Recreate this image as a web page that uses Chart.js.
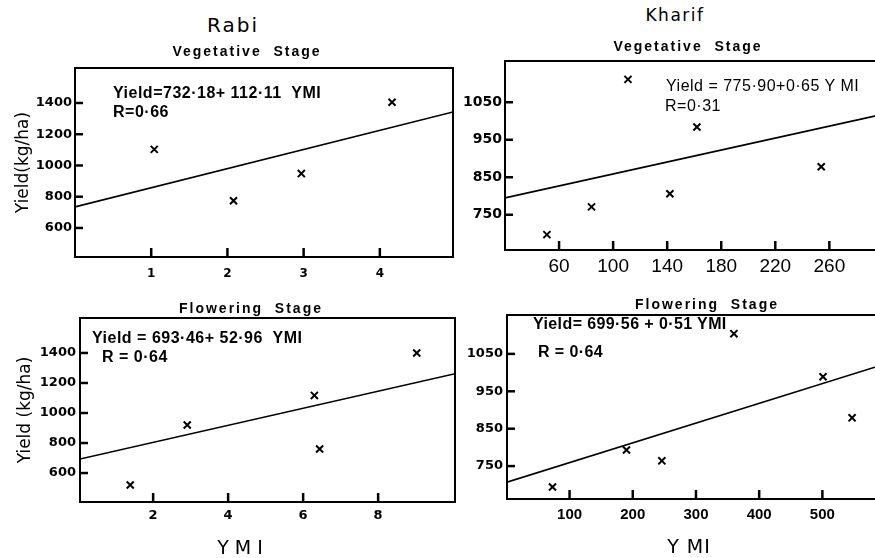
<!DOCTYPE html>
<html>
<head>
<meta charset="utf-8">
<script src="https://cdn.jsdelivr.net/npm/chart.js@4.4.1/dist/chart.umd.min.js"></script>
<style>
  html, body { margin:0; padding:0; background:#fff; }
  body { width:875px; height:558px; overflow:hidden; position:relative; }
  canvas { position:absolute; }
  .t { position:absolute; color:#000; white-space:pre; line-height:1; }
  .c { text-align:center; width:400px; }
</style>
</head>
<body>
<canvas id="c1" width="460" height="240" style="left:0px;top:60px"></canvas>
<canvas id="c2" width="455" height="240" style="left:430px;top:50px"></canvas>
<canvas id="c3" width="465" height="242" style="left:0px;top:300px"></canvas>
<canvas id="c4" width="455" height="245" style="left:430px;top:295px"></canvas>

<div class="t c" style="left:33px;top:13px;font:20px 'DejaVu Sans';letter-spacing:2px">Rabi</div>
<div class="t c" style="left:475px;top:5px;font:17px 'DejaVu Sans';letter-spacing:1.5px">Kharif</div>
<div class="t c" style="left:47px;top:43px;font:bold 14px 'Liberation Sans';letter-spacing:2px">Vegetative  Stage</div>
<div class="t c" style="left:488px;top:38px;font:bold 14px 'Liberation Sans';letter-spacing:2px">Vegetative  Stage</div>
<div class="t c" style="left:51px;top:300px;font:bold 14px 'Liberation Sans';letter-spacing:2px">Flowering  Stage</div>
<div class="t c" style="left:507px;top:296px;font:bold 14px 'Liberation Sans';letter-spacing:2px">Flowering  Stage</div>

<div class="t" style="left:113px;top:84px;font:bold 16px 'Liberation Sans';letter-spacing:0.5px">Yield=732·18+ 112·11  YMI</div>
<div class="t" style="left:113px;top:103px;font:bold 16px 'Liberation Sans';letter-spacing:0.5px">R=0·66</div>
<div class="t" style="left:666px;top:77px;font:16px 'Liberation Sans';letter-spacing:0.5px">Yield = 775·90+0·65 Y MI</div>
<div class="t" style="left:665px;top:97px;font:16px 'Liberation Sans';letter-spacing:0.5px">R=0·31</div>
<div class="t" style="left:92px;top:329px;font:bold 16px 'Liberation Sans';letter-spacing:0.5px">Yield = 693·46+ 52·96  YMI</div>
<div class="t" style="left:102px;top:348px;font:bold 16px 'Liberation Sans';letter-spacing:0.5px">R = 0·64</div>
<div class="t" style="left:533px;top:315px;font:bold 16px 'Liberation Sans';letter-spacing:0.4px">Yield= 699·56 + 0·51 YMI</div>
<div class="t" style="left:538px;top:343px;font:bold 16px 'Liberation Sans';letter-spacing:0.4px">R = 0·64</div>

<div class="t c" style="left:40px;top:536px;font:19px 'DejaVu Sans'">Y M I</div>
<div class="t c" style="left:489px;top:535px;font:19px 'DejaVu Sans';letter-spacing:1px">Y MI</div>

<script>
// ---- Rabi, vegetative stage ----
const rabiVegYMI = [1.04, 2.08, 2.97, 4.16];
const rabiVegYield = [1103, 774, 948, 1405];
const rabiVegFitYMI = [0, 4.96];
const rabiVegFitYield = [735, 1342];
const rabiVegXTicks = [1, 2, 3, 4];
const rabiVegYTicks = [600, 800, 1000, 1200, 1400];

// ---- Kharif, vegetative stage ----
const kharifVegYMI = [51, 84, 111, 142, 162, 254];
const kharifVegYield = [697, 771, 1111, 806, 984, 878];
const kharifVegFitYMI = [20, 296];
const kharifVegFitYield = [795, 1015];
const kharifVegXTicks = [60, 100, 140, 180, 220, 260];
const kharifVegYTicks = [750, 850, 950, 1050];

// ---- Rabi, flowering stage ----
const rabiFlowYMI = [1.39, 2.91, 6.3, 6.44, 9.03];
const rabiFlowYield = [520, 920, 1117, 760, 1400];
const rabiFlowFitYMI = [0.05, 10.05];
const rabiFlowFitYield = [693, 1262];
const rabiFlowXTicks = [2, 4, 6, 8];
const rabiFlowYTicks = [600, 800, 1000, 1200, 1400];

// ---- Kharif, flowering stage ----
const kharifFlowYMI = [73, 190, 246, 360, 501, 547];
const kharifFlowYield = [694, 793, 764, 1104, 989, 879];
const kharifFlowFitYMI = [1, 588];
const kharifFlowFitYield = [707, 1017];
const kharifFlowXTicks = [100, 200, 300, 400, 500];
const kharifFlowYTicks = [750, 850, 950, 1050];

// box frame + inward tick marks, placed through the chart's own scales
function makeFrame(xTicks, yTicks) {
  return {
    id: 'frame',
    afterDraw(c) {
      const a = c.chartArea, ctx = c.ctx;
      const xs = c.scales.x, ys = c.scales.y;
      ctx.save();
      ctx.strokeStyle = '#000';
      ctx.lineWidth = 2;
      ctx.strokeRect(a.left, a.top, a.right - a.left, a.bottom - a.top);
      ctx.lineWidth = 2.5;
      for (const v of xTicks) {
        const p = xs.getPixelForValue(v);
        ctx.beginPath();
        ctx.moveTo(p, a.bottom);
        ctx.lineTo(p, a.bottom - 9);
        ctx.stroke();
      }
      for (const v of yTicks) {
        const p = ys.getPixelForValue(v);
        ctx.beginPath();
        ctx.moveTo(a.left, p);
        ctx.lineTo(a.left + 8, p);
        ctx.stroke();
      }
      ctx.restore();
    }
  };
}

function panel(id, xs, ys, fx, fy, xTicks, yTicks, xr, yr, st) {
  const pts = xs.map((x, i) => ({ x: x, y: ys[i] }));
  const fit = fx.map((x, i) => ({ x: x, y: fy[i] }));
  const yScale = {
    type: 'linear', min: yr[0], max: yr[1],
    afterBuildTicks: s => { s.ticks = yTicks.map(v => ({ value: v })); },
    afterFit: s => { s.width = st.W; s.paddingTop = 0; s.paddingBottom = 0; },
    grid: { display: false, drawTicks: false },
    border: { display: true, width: 2, color: '#000' },
    ticks: { color: '#000', padding: st.yp, font: st.yf, autoSkip: false, callback: v => String(v) }
  };
  if (st.ytitle) {
    yScale.title = { display: true, text: st.ytitle, color: '#000',
      font: { family: 'DejaVu Sans', size: 17 }, padding: { top: st.ytp, bottom: 0 } };
  }
  return new Chart(document.getElementById(id), {
    type: 'scatter',
    data: {
      datasets: [
        { data: pts, pointStyle: 'crossRot', pointRadius: 5, pointBorderWidth: 2,
          borderColor: '#000', backgroundColor: '#000' },
        { data: fit, showLine: true, pointRadius: 0, borderColor: '#000', borderWidth: 1.6 }
      ]
    },
    options: {
      responsive: false, animation: false, events: [],
      layout: { padding: { top: st.pt, right: st.pr, left: 0, bottom: 0 } },
      plugins: { legend: { display: false }, tooltip: { enabled: false } },
      scales: {
        x: {
          type: 'linear', min: xr[0], max: xr[1],
          afterBuildTicks: s => { s.ticks = xTicks.map(v => ({ value: v })); },
          afterFit: s => { s.height = st.H; s.paddingLeft = 0; s.paddingRight = 0; },
          grid: { display: false, drawTicks: false },
          border: { display: true, width: 2, color: '#000' },
          ticks: { color: '#000', padding: st.xp, font: st.xf, maxRotation: 0, autoSkip: false, callback: v => String(v) }
        },
        y: yScale
      }
    },
    plugins: [makeFrame(xTicks, yTicks)]
  });
}

panel('c1', rabiVegYMI, rabiVegYield, rabiVegFitYMI, rabiVegFitYield, rabiVegXTicks, rabiVegYTicks,
  [0, 4.96], [414, 1624],
  { W: 75, H: 43, pt: 8, pr: 7, xp: 10, yp: 3,
    xf: { family: 'DejaVu Sans', size: 12, weight: 'bold' },
    yf: { family: 'DejaVu Sans', size: 13, weight: 'bold' },
    ytitle: 'Yield(kg/ha)', ytp: 13 });

panel('c2', kharifVegYMI, kharifVegYield, kharifVegFitYMI, kharifVegFitYield, kharifVegXTicks, kharifVegYTicks,
  [20, 296], [656, 1160],
  { W: 75, H: 40, pt: 11, pr: 5, xp: 5, yp: 3,
    xf: { family: 'Liberation Sans', size: 19 },
    yf: { family: 'DejaVu Sans', size: 14, weight: 'bold' } });

panel('c3', rabiFlowYMI, rabiFlowYield, rabiFlowFitYMI, rabiFlowFitYield, rabiFlowXTicks, rabiFlowYTicks,
  [0.05, 10.05], [407, 1633],
  { W: 80, H: 40, pt: 18, pr: 10, xp: 6, yp: 4,
    xf: { family: 'DejaVu Sans', size: 13, weight: 'bold' },
    yf: { family: 'DejaVu Sans', size: 13, weight: 'bold' },
    ytitle: 'Yield (kg/ha)', ytp: 15 });

panel('c4', kharifFlowYMI, kharifFlowYield, kharifFlowFitYMI, kharifFlowFitYield, kharifFlowXTicks, kharifFlowYTicks,
  [1, 588], [662, 1154],
  { W: 77, H: 41, pt: 20, pr: 5, xp: 7, yp: 4,
    xf: { family: 'Liberation Sans', size: 15, weight: 'bold' },
    yf: { family: 'DejaVu Sans', size: 13, weight: 'bold' } });
</script>
</body>
</html>
